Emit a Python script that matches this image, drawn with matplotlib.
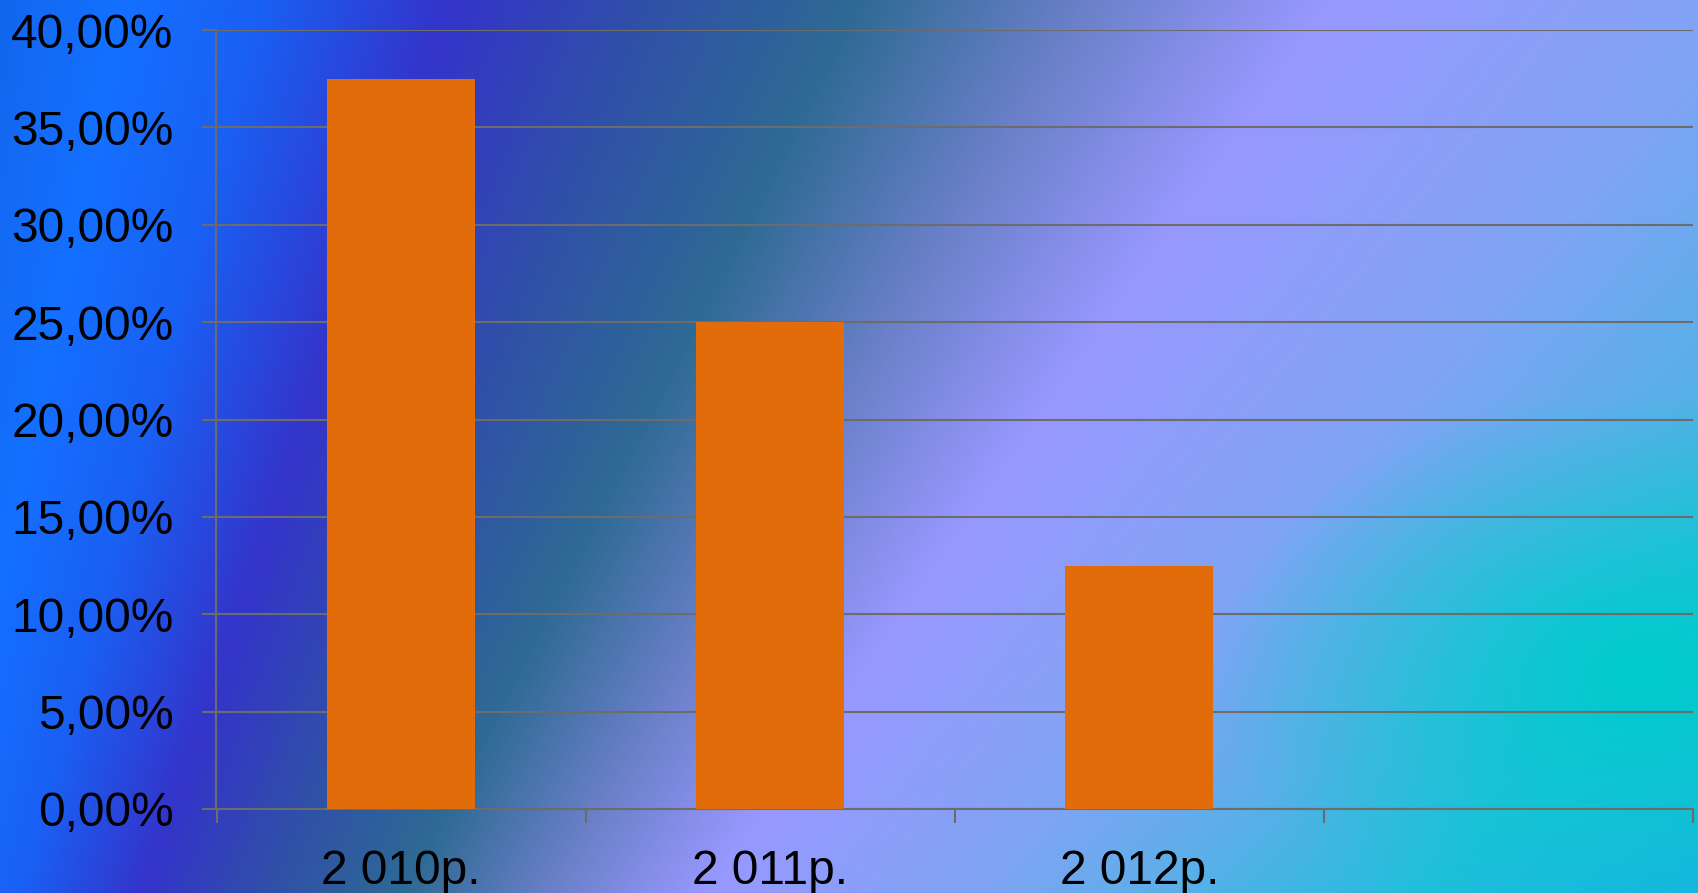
import numpy as np
import matplotlib.pyplot as plt
from matplotlib.colors import to_rgb
from matplotlib.ticker import FixedLocator, FuncFormatter

plt.rcParams['font.family'] = ['Liberation Sans', 'DejaVu Sans']

# data
categories = ['2 010р.', '2 011р.', '2 012р.']
shares = [0.375, 0.25, 0.125]
n_slots = 4
y_ticks = [0.0, 0.05, 0.10, 0.15, 0.20, 0.25, 0.30, 0.35, 0.40]

W, H = 1698, 893


def background():
    # fanning diagonal bands, measured as an angle from a point far below-left
    yy, xx = np.mgrid[0:H, 0:W].astype(float)
    cx, cy = -404.0, 2477.0
    ang = np.degrees(np.arctan2(cy - yy, xx - cx))
    stops = [(36, '#18B0E2'), (41, '#22BEDC'), (45, '#58B0E8'), (49, '#80A4F4'),
             (55, '#9898FF'), (59, '#6A80C8'), (63, '#2E6A94'), (67, '#3050A8'),
             (71, '#3434CA'), (75, '#1A60F4'), (78, '#1470FF'), (82, '#1262E6')]
    a = [s[0] for s in stops]
    cols = np.array([to_rgb(s[1]) for s in stops])
    img = np.stack([np.interp(ang, a, cols[:, k]) for k in range(3)], axis=-1)
    # cyan glow towards the lower right
    d = np.hypot((xx - 1640) / 430.0, (yy - 670) / 280.0)
    w = np.clip(1 - d, 0, 1) ** 1.1
    img = img * (1 - w[..., None]) + np.array(to_rgb('#00CCCC')) * w[..., None]
    return img


fig = plt.figure(figsize=(W / 100, H / 100), dpi=100)
bg = fig.add_axes([0, 0, 1, 1], zorder=0)
bg.imshow(background(), aspect='auto', interpolation='bilinear')
bg.axis('off')

ax = fig.add_axes([216.5 / W, 1 - 809 / H, (1693 - 216.5) / W, (809 - 30) / H], zorder=1)
ax.patch.set_alpha(0)

x = np.arange(len(categories))
ax.bar(x, shares, width=0.4, color='#E26B0A', zorder=3)

grid_c = '#6C6C6C'
ax.set_xlim(-0.5, n_slots - 0.5)
ax.set_ylim(0, 0.40)
ax.yaxis.set_major_locator(FixedLocator(y_ticks))
ax.yaxis.set_major_formatter(FuncFormatter(lambda v, p: f'{v * 100:.2f}%'.replace('.', ',')))
ax.grid(axis='y', color=grid_c, linewidth=1.5, zorder=1)

ax.set_xticks(np.arange(n_slots + 1) - 0.5)
ax.set_xticklabels([])
ax.set_xticks(x, minor=True)
ax.set_xticklabels(categories, minor=True)

for s in ['top', 'right']:
    ax.spines[s].set_visible(False)
for s in ['left', 'bottom']:
    ax.spines[s].set_color(grid_c)
    ax.spines[s].set_linewidth(1.5)

ax.tick_params(axis='y', direction='out', length=10, width=1.5, color=grid_c,
               labelsize=34.5, pad=21, labelcolor='black')
ax.tick_params(axis='x', which='major', direction='out', length=10, width=1.5, color=grid_c)
ax.tick_params(axis='x', which='minor', length=0, labelsize=34.5, pad=29, labelcolor='black')

fig.savefig('out.png', dpi=100)
